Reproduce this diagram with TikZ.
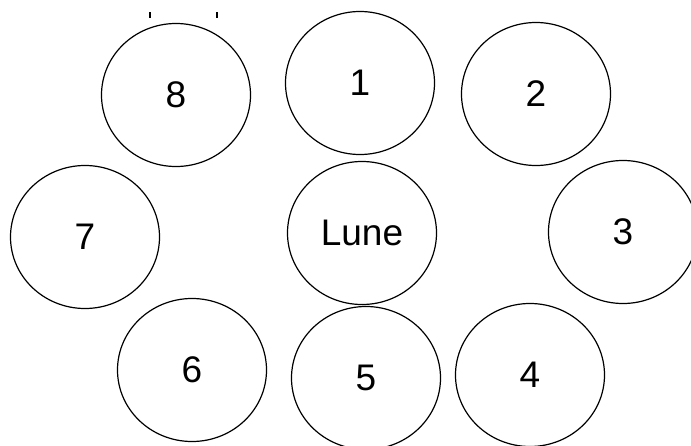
\documentclass[tikz,border=0pt]{standalone}
\usepackage{fontspec}
\setmainfont{Liberation Sans}
\usetikzlibrary{shapes.geometric}

\begin{document}
\begin{tikzpicture}[x=1pt, y=-1pt,
    ring/.style={draw, ellipse, line width=1.2pt, inner sep=0pt,
      minimum width=149pt, minimum height=143pt,
      font=\fontsize{37}{40}\selectfont}]
      \useasboundingbox (0,0) rectangle (691,445);
      \node[ring] (moon) at (362,233) {Lune};
      \node[ring] (s1) at (360,83) {1};
      \node[ring] (s2) at (536,94) {2};
      \node[ring] (s3) at (623,232) {3};
      \node[ring] (s4) at (530,375) {4};
      \node[ring] (s5) at (366,378) {5};
      \node[ring] (s6) at (192,370) {6};
      \node[ring] (s7) at (85,237) {7};
      \node[ring] (s8) at (176,95) {8};
      % two small marks above 8
      \draw[line width=1.5pt] (150,12) -- (150,18);
      \draw[line width=1.5pt] (217,12) -- (217,18);
    \end{tikzpicture}
\end{document}
